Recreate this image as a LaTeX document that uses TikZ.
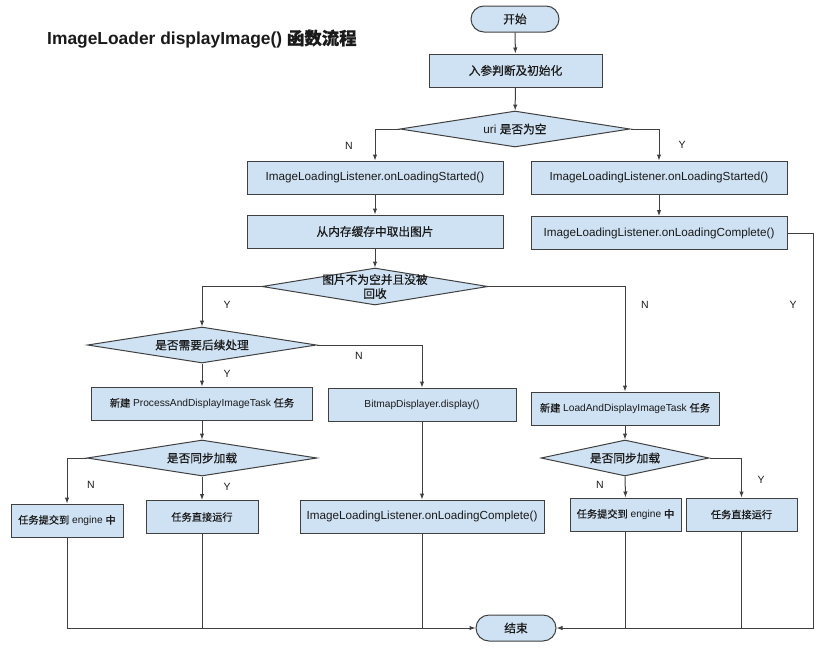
\documentclass[tikz,border=0pt]{standalone}
\usepackage{fontspec}
\setmainfont{Liberation Sans}
\newfontfamily\cjk{Noto Sans CJK SC}[FakeBold=0.6]
\usetikzlibrary{shapes.geometric,arrows.meta}
\definecolor{boxfill}{HTML}{CFE2F3}
\definecolor{linec}{HTML}{404040}
\definecolor{txt}{HTML}{1A1A1A}
\begin{document}
\begin{tikzpicture}[x=1pt,y=-1pt,
  every node/.style={text=txt},
  box/.style={draw=linec, fill=boxfill, line width=1pt, rectangle, inner sep=0pt,
    minimum width=#1, minimum height=33pt, font=\fontsize{11.7}{13}\selectfont},
  small/.style={font=\fontsize{10.2}{12}\selectfont},
  term/.style={draw=linec, fill=boxfill, line width=1pt, rectangle, rounded corners=13pt,
    inner sep=0pt, minimum width=#1, minimum height=26pt, font=\fontsize{11.7}{13}\selectfont},
  dia/.style={draw=linec, fill=boxfill, line width=1pt, diamond, inner sep=0pt,
    minimum width=#1, minimum height=36pt},
  dtext/.style={font=\fontsize{11.7}{13}\selectfont, align=center, text=txt},
  lab/.style={font=\fontsize{10.5}{12}\selectfont, inner sep=0pt},
  arr/.style={draw=linec, line width=1pt, -{Latex[length=6pt,width=4.5pt]}},
  ln/.style={draw=linec, line width=1pt}]
\useasboundingbox (0,0) rectangle (825,648);

\node[anchor=west, font=\fontsize{17.4}{20}\selectfont\bfseries, inner sep=0pt] (title) at (47,39)
  {ImageLoader displayImage() {\cjk\bfseries 函数流程}};

\node[term=88] (start) at (515,19) {\cjk 开始};
\node[box=173] (init) at (515.5,70.5) {\cjk 入参判断及初始化};
\node[dia=230, label={[dtext]center:uri {\cjk 是否为空}}] (d1) at (515,129) {};
\node[box=256] (l1) at (375,177.5) {ImageLoadingListener.onLoadingStarted()};
\node[box=256] (l2) at (375,231.5) {\cjk 从内存缓存中取出图片};
\node[box=256] (r1) at (659,177.5) {ImageLoadingListener.onLoadingStarted()};
\node[box=256] (r2) at (659,233) {ImageLoadingListener.onLoadingComplete()};
\node[dia=226, minimum height=37pt, label={[dtext, font=\fontsize{11.7}{14}\selectfont\cjk]center:图片不为空并且没被\\回收}] (d2) at (375,286.5) {};
\node[dia=229, label={[dtext]center:{\cjk 是否需要后续处理}}] (d3) at (202,345) {};
\node[box=221, small] (p1) at (202,403.5) {{\cjk 新建} ProcessAndDisplayImageTask {\cjk 任务}};
\node[box=188, small] (bm) at (422,404.5) {BitmapDisplayer.display()};
\node[dia=230, label={[dtext]center:{\cjk 是否同步加载}}] (d4) at (202,458) {};
\node[box=112, small] (s1) at (67,520.5) {{\cjk 任务提交到} engine {\cjk 中}};
\node[box=112, small] (s2) at (202,517) {\cjk 任务直接运行};
\node[box=244] (mc) at (422,516.5) {ImageLoadingListener.onLoadingComplete()};
\node[box=188, small] (rb) at (625,408.5) {{\cjk 新建} LoadAndDisplayImageTask {\cjk 任务}};
\node[dia=168, label={[dtext]center:{\cjk 是否同步加载}}] (d5) at (625,458) {};
\node[box=111, small] (s3) at (625.5,514.5) {{\cjk 任务提交到} engine {\cjk 中}};
\node[box=111, small] (s4) at (741.5,514.5) {\cjk 任务直接运行};
\node[term=80] (end) at (516,628) {\cjk 结束};

\coordinate (rc) at (813,628);

\draw[arr] (start) -- (init);
\draw[arr] (init) -- (d1);
\draw[arr] (d1.west) -| (l1.north);
\draw[arr] (d1.east) -| (r1.north);
\draw[arr] (l1) -- (l2);
\draw[arr] (r1) -- (r2);
\draw[arr] (l2) -- (d2);
\draw[arr] (r2.east) -| (rc) -- (end.east);
\draw[arr] (d2.west) -| (d3.north);
\draw[arr] (d2.east) -| (rb.north);
\draw[arr] (d3.south) -- (p1.north);
\draw[arr] (d3.east) -| (bm.north);
\draw[arr] (p1) -- (d4);
\draw[arr] (d4.west) -| (s1.north);
\draw[arr] (d4.south) -- (s2.north);
\draw[arr] (bm) -- (mc);
\draw[arr] (rb) -- (d5);
\draw[arr] (d5.south) -- (s3.north);
\draw[arr] (d5.east) -| (s4.north);
\draw[arr] (s1.south) |- (end.west);
\draw[ln] (s2.south) -- (s2.south |- end.west);
\draw[ln] (mc.south) -- (mc.south |- end.west);
\draw[ln] (s3.south) -- (s3.south |- end.east);
\draw[ln] (s4.south) -- (s4.south |- end.east);

\node[lab] (n1) at (349,146) {N};
\node[lab] (y1) at (682,145) {Y};
\node[lab] (y2) at (227,305) {Y};
\node[lab] (n2) at (645,305) {N};
\node[lab] (y3) at (793,305) {Y};
\node[lab] (n3) at (359,356) {N};
\node[lab] (y4) at (227,374) {Y};
\node[lab] (n4) at (91,485) {N};
\node[lab] (y5) at (227,487) {Y};
\node[lab] (n5) at (600,485) {N};
\node[lab] (y6) at (761,480) {Y};
\end{tikzpicture}
\end{document}
